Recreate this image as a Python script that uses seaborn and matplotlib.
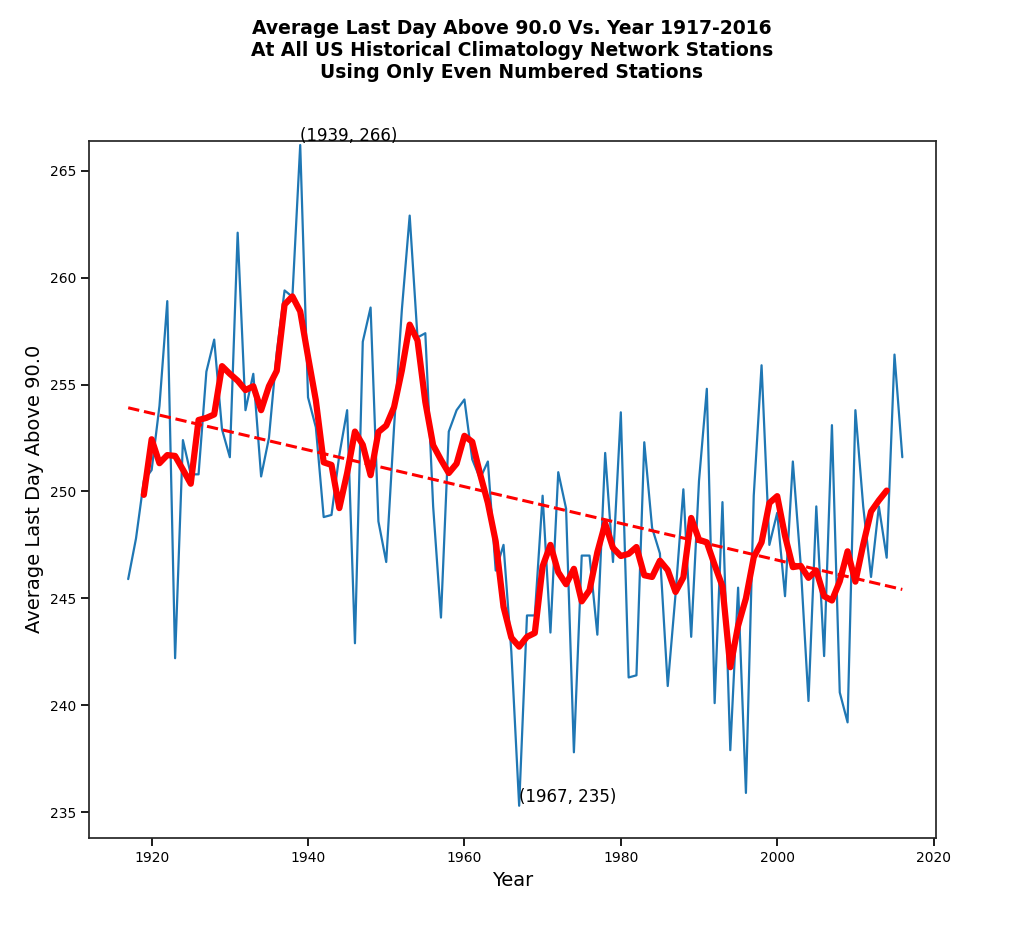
import numpy as np
import pandas as pd
import matplotlib
matplotlib.use("Agg")
import matplotlib.pyplot as plt
import seaborn as sns

years = list(range(1917, 2017))
last_day = [
    245.9, 247.8, 250.5, 251.0, 254.0, 258.9, 242.2, 252.4, 250.8, 250.8,
    255.6, 257.1, 252.9, 251.6, 262.1, 253.8, 255.5, 250.7, 252.5, 256.5,
    259.4, 259.1, 266.2, 254.4, 253.0, 248.8, 248.9, 251.7, 253.8, 242.9,
    257.0, 258.6, 248.6, 246.7, 253.0, 258.5, 262.9, 257.2, 257.4, 249.3,
    244.1, 252.8, 253.8, 254.3, 251.5, 250.6, 251.4, 246.3, 247.5, 242.5,
    235.3, 244.2, 244.2, 249.8, 243.4, 250.9, 249.2, 237.8, 247.0, 247.0,
    243.3, 251.8, 246.7, 253.7, 241.3, 241.4, 252.3, 248.3, 247.1, 240.9,
    245.2, 250.1, 243.2, 250.5, 254.8, 240.1, 249.5, 237.9, 245.5, 235.9,
    249.8, 255.9, 247.5, 249.0, 245.1, 251.4, 246.6, 240.2, 249.3, 242.3,
    253.1, 240.6, 239.2, 253.8, 249.3, 246.0, 249.3, 246.9, 256.4, 251.6,
]

df = pd.DataFrame({"year": years, "value": last_day})
df["smooth"] = df["value"].rolling(5, center=True).mean()
coef = np.polyfit(df["year"], df["value"], 1)
df["trend"] = np.polyval(coef, df["year"])

sns.set_theme(style="ticks")
plt.rcParams["font.family"] = ["DejaVu Sans"]
plt.rcParams["text.color"] = "black"
plt.rcParams["axes.labelcolor"] = "black"
plt.rcParams["xtick.color"] = "black"
plt.rcParams["ytick.color"] = "black"

fig = plt.figure(figsize=(10.24, 9.51), dpi=100)
ax = fig.add_axes([0.087, 0.119, 0.827, 0.733])
sns.lineplot(data=df, x="year", y="value", color="#1f77b4", linewidth=1.6, ax=ax)
sns.lineplot(data=df, x="year", y="smooth", color="red", linewidth=4.5, ax=ax)
sns.lineplot(data=df, x="year", y="trend", color="red", linewidth=2.2,
             linestyle="--", ax=ax)

imax = df["value"].idxmax()
imin = df["value"].idxmin()
for i in (imax, imin):
    ax.annotate(f"({df.year[i]}, {round(df.value[i])})",
                (df.year[i], df.value[i]), fontsize=12, va="bottom")

ax.set_xlabel("Year", fontsize=14)
ax.set_ylabel("Average Last Day Above 90.0", fontsize=14)
ax.tick_params(labelsize=10)
ax.set_xticks(range(1920, 2021, 20))
ax.set_yticks(range(235, 266, 5))
ax.set_ylim(233.8, 266.4)
ax.set_xlim(1912.0, 2020.3)
fig.suptitle("Average Last Day Above 90.0 Vs. Year 1917-2016\n"
             "At All US Historical Climatology Network Stations\n"
             "Using Only Even Numbered Stations",
             fontsize=13.5, fontweight="bold", y=0.98)

fig.savefig("out.png", dpi=100)
